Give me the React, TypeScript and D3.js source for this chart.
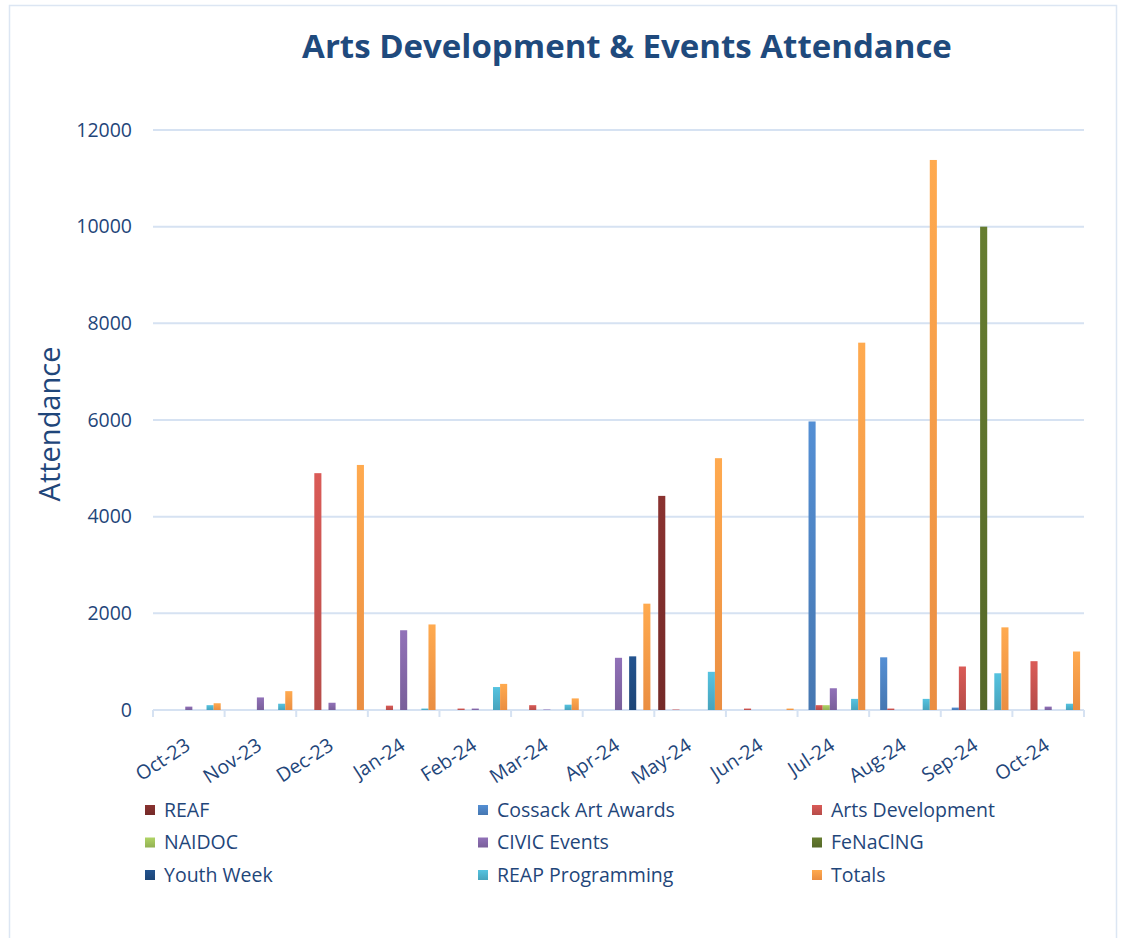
import React from "react";
import * as d3 from "d3";

const months = ["Oct-23","Nov-23","Dec-23","Jan-24","Feb-24","Mar-24","Apr-24","May-24","Jun-24","Jul-24","Aug-24","Sep-24","Oct-24"];
const seriesNames = ["REAF","Cossack Art Awards","Arts Development","NAIDOC","CIVIC Events","FeNaClNG","Youth Week","REAP Programming","Totals"];
const seriesColors = ["#7a2c2a","#4a7ebb","#c0504d","#9bbb59","#8064a2","#5a6e2a","#1f497d","#4bacc6","#f79646"];

const reaf =        [0,0,0,0,0,0,0,4430,0,0,0,0,0];
const cossack =     [0,0,0,0,0,0,0,0,0,5970,1090,50,0];
const artsDev =     [0,0,4900,90,30,100,0,10,30,100,30,900,1010];
const naidoc =      [0,0,0,0,0,0,0,0,0,100,0,0,0];
const civic =       [70,260,150,1650,30,10,1080,0,0,450,0,0,70];
const fenacing =    [0,0,0,0,0,0,0,0,0,0,0,10000,0];
const youthWeek =   [0,0,0,0,0,0,1110,0,0,0,0,0,0];
const reap =        [100,130,0,30,475,110,0,790,0,230,230,760,130];
const totals =      [140,390,5070,1770,540,240,2200,5210,30,7600,11380,1710,1210];
const seriesValues = [reaf, cossack, artsDev, naidoc, civic, fenacing, youthWeek, reap, totals];
const yTicks = [0,2000,4000,6000,8000,10000,12000];

const FONT = "'Open Sans', 'Noto Sans', sans-serif";
const TEXT = "#1f467a";
const GRID = "#d6e2f2";

export default function App() {
  const left = 153, right = 1084, top = 130, bottom = 710;
  const x0 = d3.scaleBand<string>().domain(months).range([left, right]).paddingInner(0).paddingOuter(0);
  const x1 = d3.scaleBand<string>().domain(seriesNames).range([0, x0.bandwidth()]).paddingOuter(0.55).paddingInner(0);
  const y = d3.scaleLinear().domain([0, 12000]).range([bottom, top]);

  return (
    <svg width={1132} height={938} style={{ position: "absolute", left: 0, top: 0 }} fontFamily={FONT}>
      <defs>
        {seriesColors.map((c, i) => {
          const col = d3.color(c)!;
          return (
            <linearGradient key={i} id={`g${i}`} x1="0" y1="0" x2="0" y2="1">
              <stop offset="0" stopColor={col.brighter(0.35).formatHex()} />
              <stop offset="1" stopColor={col.darker(0.15).formatHex()} />
            </linearGradient>
          );
        })}
      </defs>
      <rect x={0} y={0} width={1132} height={938} fill="#fff" />
      <path d="M9.5,938 V5.5 H1116.5 V938" fill="none" stroke="#dce6f3" strokeWidth={1.5} />
      <text x={627} y={58} textAnchor="middle" fontSize={33} fontWeight={700} fill="#1f4a7d">
        Arts Development &amp; Events Attendance
      </text>
      {yTicks.map((t) => (
        <g key={t}>
          <line x1={left} x2={right} y1={y(t)} y2={y(t)} stroke={GRID} strokeWidth={2} />
          <text x={132} y={y(t)} dy="0.35em" textAnchor="end" fontSize={19.5} fill={TEXT}>{t}</text>
        </g>
      ))}
      {months.map((m) => (
        <line key={m} x1={x0(m)!} x2={x0(m)!} y1={bottom} y2={bottom + 7} stroke={GRID} strokeWidth={2} />
      ))}
      <line x1={right} x2={right} y1={bottom} y2={bottom + 7} stroke={GRID} strokeWidth={2} />
      <text transform={`translate(50,${(top + bottom) / 2 + 4}) rotate(-90)`} textAnchor="middle" dy="0.35em" fontSize={29} fill={TEXT}>
        Attendance
      </text>
      {seriesValues.map((vals, si) =>
        vals.map((v, mi) =>
          v > 0 ? (
            <rect
              key={`${si}-${mi}`}
              x={x0(months[mi])! + x1(seriesNames[si])!}
              y={y(v)}
              width={x1.bandwidth()}
              height={bottom - y(v)}
              fill={`url(#g${si})`}
            />
          ) : null
        )
      )}
      {months.map((m) => (
        <text
          key={m}
          transform={`translate(${x0(m)! + x0.bandwidth() / 2 - 1},${bottom + 33}) rotate(-33)`}
          textAnchor="end"
          dy="0.35em"
          fontSize={19.5}
          fill={TEXT}
        >
          {m}
        </text>
      ))}
      {seriesNames.map((n, i) => {
        const col = i % 3;
        const row = Math.floor(i / 3);
        const lx = [145, 478, 812][col];
        const ly = 810 + row * 32.5;
        return (
          <g key={n}>
            <rect x={lx} y={ly - 5} width={10} height={10} fill={`url(#g${i})`} />
            <text x={lx + 19} y={ly} dy="0.35em" fontSize={19.5} fill={TEXT}>{n}</text>
          </g>
        );
      })}
    </svg>
  );
}
